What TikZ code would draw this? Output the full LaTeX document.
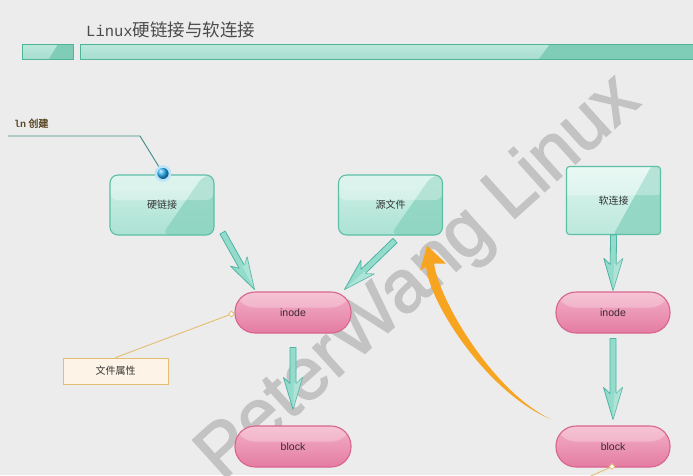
\documentclass[tikz,border=0pt]{standalone}
\usepackage{fontspec}
\setmainfont{Noto Sans CJK SC}
\newfontfamily\wmfont{Liberation Sans}
\newfontfamily\wmboldfont[FakeBold=2]{Liberation Sans}
\newfontfamily\monofont{Liberation Mono}
\newfontfamily\cjkbold[FakeBold=2]{Noto Sans CJK SC}
\usetikzlibrary{calc,shapes.geometric}
\definecolor{bg}{HTML}{ECECEC}
\definecolor{tealB}{HTML}{5DBFA6}
\definecolor{tealL}{HTML}{D2F1E8}
\definecolor{tealM}{HTML}{ABE2D3}
\definecolor{tealD}{HTML}{8CD4C0}
\definecolor{barL}{HTML}{BDE8DC}
\definecolor{barM}{HTML}{A6DECF}
\definecolor{barD}{HTML}{80CDB7}
\definecolor{barB}{HTML}{4FB597}
\definecolor{pinkB}{HTML}{D8648E}
\definecolor{pinkL}{HTML}{F3B0C7}
\definecolor{pinkD}{HTML}{E47CA2}
\definecolor{arrF}{HTML}{93DCCC}
\definecolor{arrB}{HTML}{4FB3A3}
\definecolor{orng}{HTML}{F7A521}
\definecolor{wmgray}{HTML}{C3C3C3}
\definecolor{noteB}{HTML}{E3BE72}
\definecolor{noteF}{HTML}{FDF3E6}
\definecolor{lnc}{HTML}{5B4A28}
\definecolor{lnline}{HTML}{3E8E82}
\definecolor{dotb}{HTML}{1EA6EA}
\definecolor{txt}{HTML}{333333}
\tikzset{
  tealbox/.style={draw=tealB, line width=1.1pt, rounded corners=8pt,
    minimum width=104pt, minimum height=60pt, top color=tealL, bottom color=tealM,
    text=txt, font=\fontsize{10}{12}\selectfont,
    path picture={
      \fill[tealD, opacity=.85]
        ($(path picture bounding box.south west)!.5!(path picture bounding box.south east)$) --
        ($(path picture bounding box.north west)!.9!(path picture bounding box.north east)$) --
        (path picture bounding box.north east) -- (path picture bounding box.south east) -- cycle;
      \fill[white, opacity=.3] (path picture bounding box.north west) rectangle
        ($(path picture bounding box.north east)!.42!(path picture bounding box.south east)$);
    }},
  softbox/.style={tealbox, rounded corners=3pt, minimum width=94pt, minimum height=68pt,
    top color=tealL!70!white, bottom color=tealM!80!white},
  pill/.style={draw=pinkB, line width=1.1pt, rounded corners=20pt,
    minimum width=116pt, minimum height=41pt, top color=pinkL, bottom color=pinkD,
    text={rgb,255:red,60;green,40;blue,50}, font=\wmfont\fontsize{10.5}{12}\selectfont,
    path picture={
      \fill[white, opacity=.25] (path picture bounding box.north west) rectangle
        ($(path picture bounding box.north east)!.38!(path picture bounding box.south east)$);
    }},
  notebox/.style={draw=noteB, line width=0.9pt, fill=noteF, minimum width=105pt,
    minimum height=26pt, text=txt, font=\fontsize{10}{12}\selectfont},
  tarrow/.style={fill=arrF, draw=arrB, line width=0.8pt, line join=round},
  noteline/.style={draw=noteB, line width=0.9pt},
  wm/.style={text=wmgray, font=\wmboldfont\fontsize{74}{74}\selectfont, inner sep=0pt},
}
\newcommand\tealarrow[2]{%
  \coordinate (ta) at #1; \coordinate (tb) at #2;
  \coordinate (th) at ($(tb)!32pt!(ta)$);
  \coordinate (tn) at ($(tb)!26pt!(ta)$);
  \draw[tarrow] ($(ta)!3pt!90:(tb)$) -- ($(tn)!3pt!90:(tb)$) -- ($(th)!9.5pt!90:(tb)$) --
    (tb) -- ($(th)!9.5pt!-90:(tb)$) -- ($(tn)!3pt!-90:(tb)$) -- ($(ta)!3pt!-90:(tb)$) -- cycle;
  \fill[white, opacity=.25] ($(tn)!1pt!90:(tb)$) -- (tb) -- ($(th)!9.5pt!90:(tb)$) -- cycle;}
\begin{document}
\begin{tikzpicture}[x=1pt, y=-1pt]
\useasboundingbox (0,0) rectangle (693,475);
\clip (0,0) rectangle (693,475);
\fill[bg] (0,0) rectangle (693,475);
% watermark
\node[wm, rotate=42, anchor=base west] (wmk) at (222,482) {PeterWang Linux};
% title and bars
\node[anchor=base west, inner sep=0pt, text={rgb,255:red,75;green,75;blue,75}] (title) at (86,36)
  {{\monofont\fontsize{15.5}{16}\selectfont Linux}\fontsize{17.5}{18}\selectfont 硬链接与软连接};
\fill[top color=barL, bottom color=barM] (22,44) rectangle (73,59);
\fill[barD] (49,59) -- (58,44) -- (73,44) -- (73,59) -- cycle;
\draw[barB, line width=1pt] (22,44) rectangle (73,59);
\fill[top color=barL, bottom color=barM] (80,44) rectangle (700,59);
\fill[barD] (539,59) -- (550,44) -- (700,44) -- (700,59) -- cycle;
\draw[barB, line width=1pt] (80,44) rectangle (700,59);
% nodes
\node[tealbox] (hard) at (162,205) {硬链接};
\node[tealbox] (src) at (390.5,205) {源文件};
\node[softbox] (soft) at (613.5,200.5) {软连接};
\node[pill] (inodeL) at (293,312.5) {inode};
\node[pill] (blockL) at (293,446.5) {block};
\node[pill, minimum width=114pt] (inodeR) at (613,312.5) {inode};
\node[pill, minimum width=114pt] (blockR) at (613,446.5) {block};
\node[notebox] (note) at (115.5,371) {文件属性};
% ln label and connector
\node[anchor=base west, inner sep=0pt, text=lnc] (ln) at (14,127)
  {{\monofont\bfseries\fontsize{10}{12}\selectfont ln}\fontsize{10}{12}\selectfont\ {\cjkbold 创建}};
\coordinate (lnstart) at (8,136);
\coordinate (lnbend) at (140,136);
\node[circle, draw=dotb!30, line width=2.6pt, ball color=dotb, minimum size=14pt, inner sep=0pt] (dot) at ($(hard.north)+(1,-1)$) {};
\draw[lnline, line width=0.9pt] (lnstart) -- (lnbend) -- (dot);
% teal arrows
\tealarrow{($(hard.south east)+(8,-3)$)}{($(inodeL.north west)+(20,-2)$)}
\tealarrow{($(src.south)+(4.5,5)$)}{($(inodeL.north east)+(-7,-2)$)}
\tealarrow{(soft.south)}{($(inodeR.north)+(0,-1)$)}
\tealarrow{($(inodeL.south)+(0,14)$)}{($(blockL.north)+(0,-16)$)}
\tealarrow{($(inodeR.south)+(0,5)$)}{($(blockR.north)+(0,-6)$)}
% orange curved arrow from right block back to source file
\coordinate (ot) at ($(blockR.north west)+(-4,-6)$);
\coordinate (oh) at ($(src.south east)+(-16,10)$);
\fill[orng] (oh) -- ($(oh)+(19,18)$) -- ($(oh)+(7,18)$)
  .. controls ($(oh)+(12,55)$) and ($(ot)+(-58,-27)$) .. (ot)
  .. controls ($(ot)+(-64,-26)$) and ($(oh)+(2,57)$) .. ($(oh)+(-1,21)$)
  -- ($(oh)+(-7,25)$) -- cycle;
% note connector
\node[diamond, draw=noteB, fill=white, line width=0.8pt, minimum size=6pt, inner sep=0pt] (dm) at ($(inodeL.west)+(-3,1.5)$) {};
\draw[noteline] (note.north) -- (dm);
\node[diamond, draw=noteB, fill=white, line width=0.8pt, minimum size=6pt, inner sep=0pt] (dm2) at ($(blockR.south)+(-1,-1)$) {};
\coordinate (nt) at (582,480);
\draw[noteline] (dm2) -- (nt);
\end{tikzpicture}
\end{document}
